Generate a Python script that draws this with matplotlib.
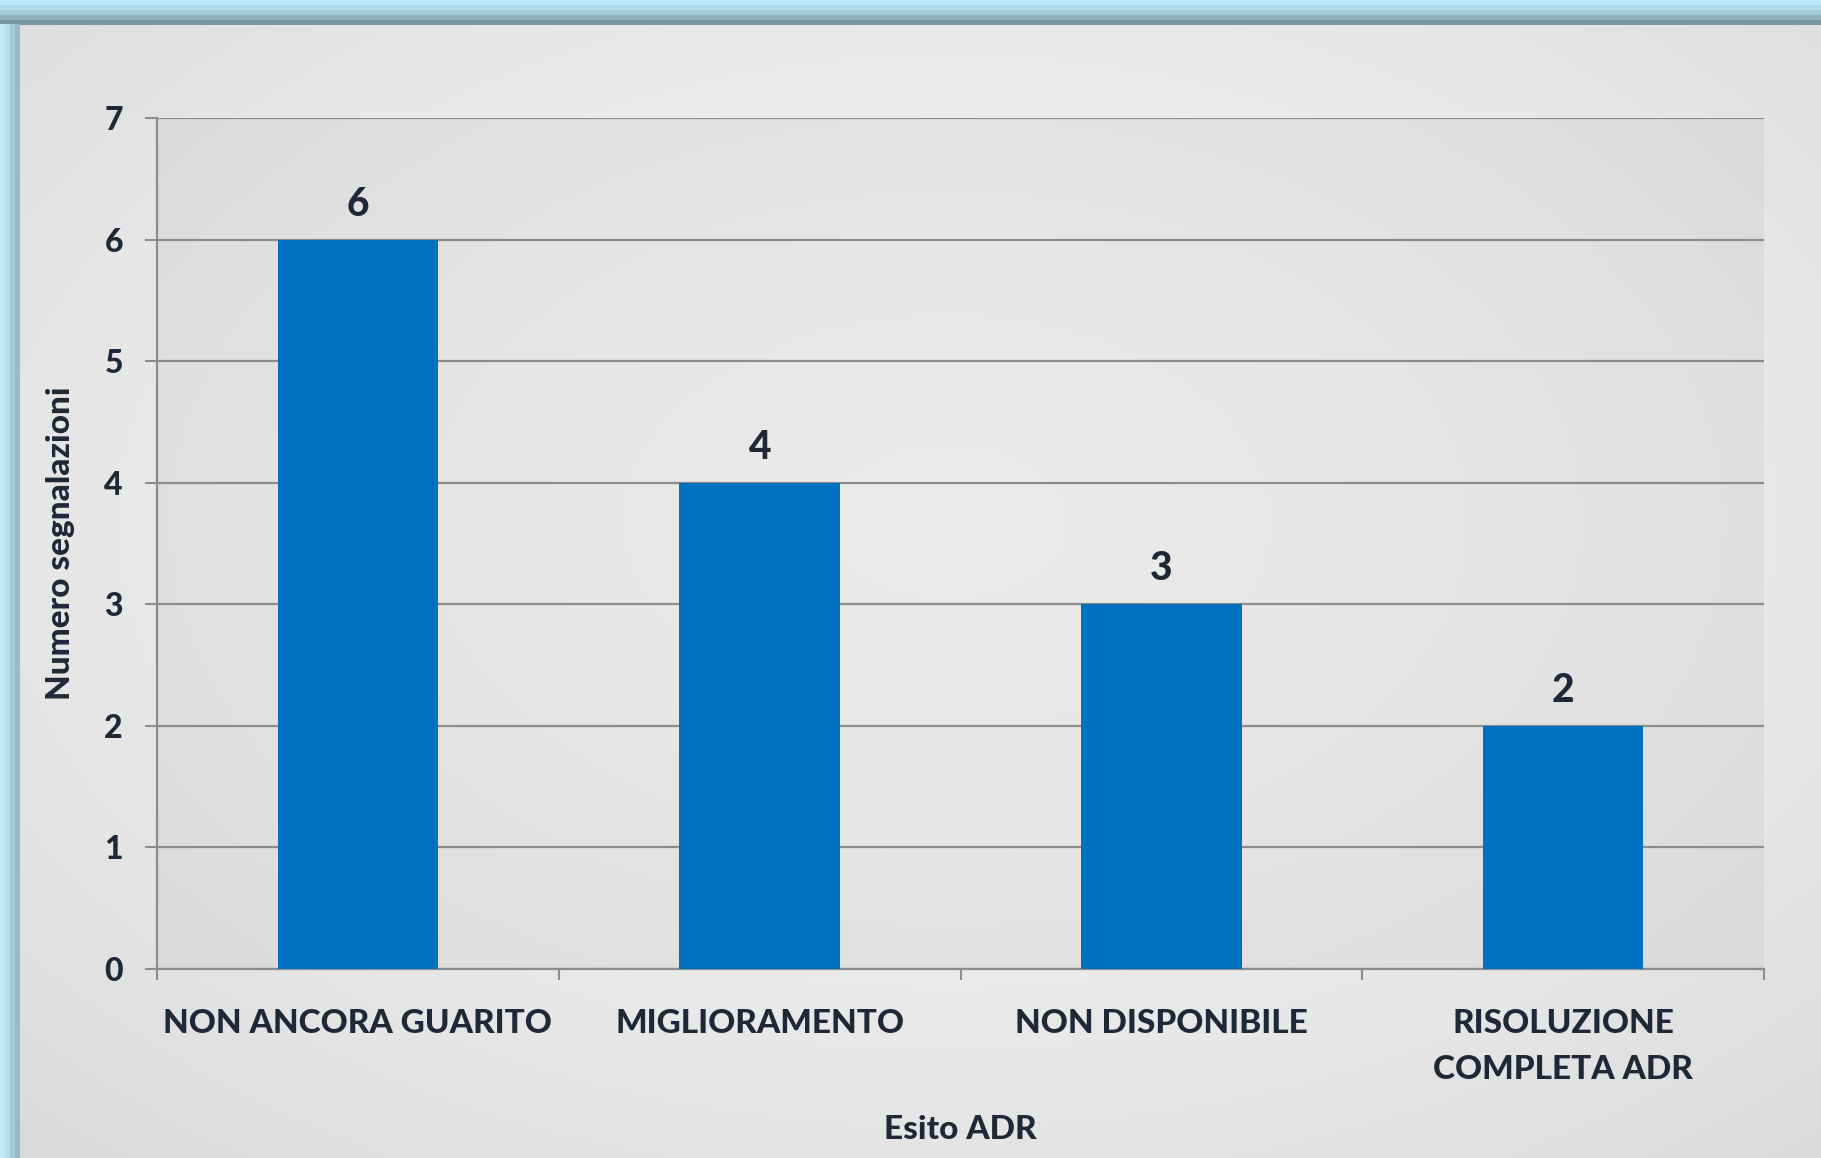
import numpy as np
import matplotlib.pyplot as plt
from matplotlib.patches import Rectangle

# ADR outcome counts
categories = ["NON ANCORA GUARITO", "MIGLIORAMENTO", "NON DISPONIBILE",
              "RISOLUZIONE\nCOMPLETA ADR"]
counts = [6, 4, 3, 2]
yticks = [0, 1, 2, 3, 4, 5, 6, 7]

txt = "#1e2836"
grid_c = "#8c8c8c"
bar_c = "#0070C0"
plt.rcParams['font.family'] = ['Lato', 'DejaVu Sans']
W8 = 'black'

W, H = 1821, 1158
fig = plt.figure(figsize=(W / 100, H / 100), dpi=100)

# soft radial grey background
bg = fig.add_axes([0, 0, 1, 1], zorder=-10)
bg.axis('off')
yy, xx = np.mgrid[0:H, 0:W]
r = np.sqrt(((xx - 0.52 * W) / W) ** 2 + ((yy - 0.45 * H) / H) ** 2)
shade = 0.955 - 0.16 * r ** 1.6
bg.imshow(np.dstack([shade] * 3).clip(0, 1), extent=[0, W, H, 0], aspect='auto')
bg.set_xlim(0, W); bg.set_ylim(H, 0)

# bluish frame along the top and left edges
top_cols = ["#bde8f8", "#b0dcec", "#a2cbd9", "#8fb2be", "#7c9aa5"]
for i, c in enumerate(top_cols):
    bg.add_patch(Rectangle((0, i * 5), W, 5, color=c, lw=0))
left_cols = ["#c0e8f7", "#b2dbeb", "#a4cad8", "#96bac6"]
for i, c in enumerate(left_cols):
    bg.add_patch(Rectangle((i * 5, 24), 5, H, color=c, lw=0))

ax = fig.add_axes([157 / W, 1 - 969 / H, (1764 - 157) / W, (969 - 118) / H])
ax.set_facecolor((0, 0, 0, 0.035))

x = np.arange(len(categories))
bars = ax.bar(x, counts, width=0.4, color=bar_c, zorder=3)
for xi, v in zip(x, counts):
    ax.text(xi, v + 0.14, str(v), ha='center', va='bottom', fontsize=28,
            fontweight=W8, color=txt)

ax.set_xlim(-0.5, len(categories) - 0.5)
ax.set_ylim(0, 7)
ax.set_yticks(yticks)
ax.yaxis.grid(True, color=grid_c, lw=1.6, zorder=1)
ax.set_axisbelow(True)
for s in ['top', 'right']:
    ax.spines[s].set_visible(False)
for s in ['left', 'bottom']:
    ax.spines[s].set_color(grid_c)
    ax.spines[s].set_linewidth(1.6)

ax.set_xticks(x)
ax.set_xticklabels(categories, linespacing=1.7, fontweight=W8)
ax.set_yticklabels([str(v) for v in yticks], fontweight=W8)
ax.set_xticks(np.arange(-0.5, len(categories)), minor=True)
ax.tick_params(axis='x', which='major', length=0, pad=29, labelsize=24,
               labelcolor=txt)
ax.tick_params(axis='x', which='minor', length=8, width=1.5, color=grid_c,
               direction='out')
ax.tick_params(axis='y', length=8.5, width=1.5, color=grid_c, pad=16,
               labelsize=23, labelcolor=txt)

ax.set_xlabel("Esito ADR", fontsize=24, fontweight=W8, color=txt,
              labelpad=22)
ax.set_ylabel("Numero segnalazioni", fontsize=24, fontweight=W8,
              color=txt, labelpad=21)

fig.savefig("out.png", dpi=100)
